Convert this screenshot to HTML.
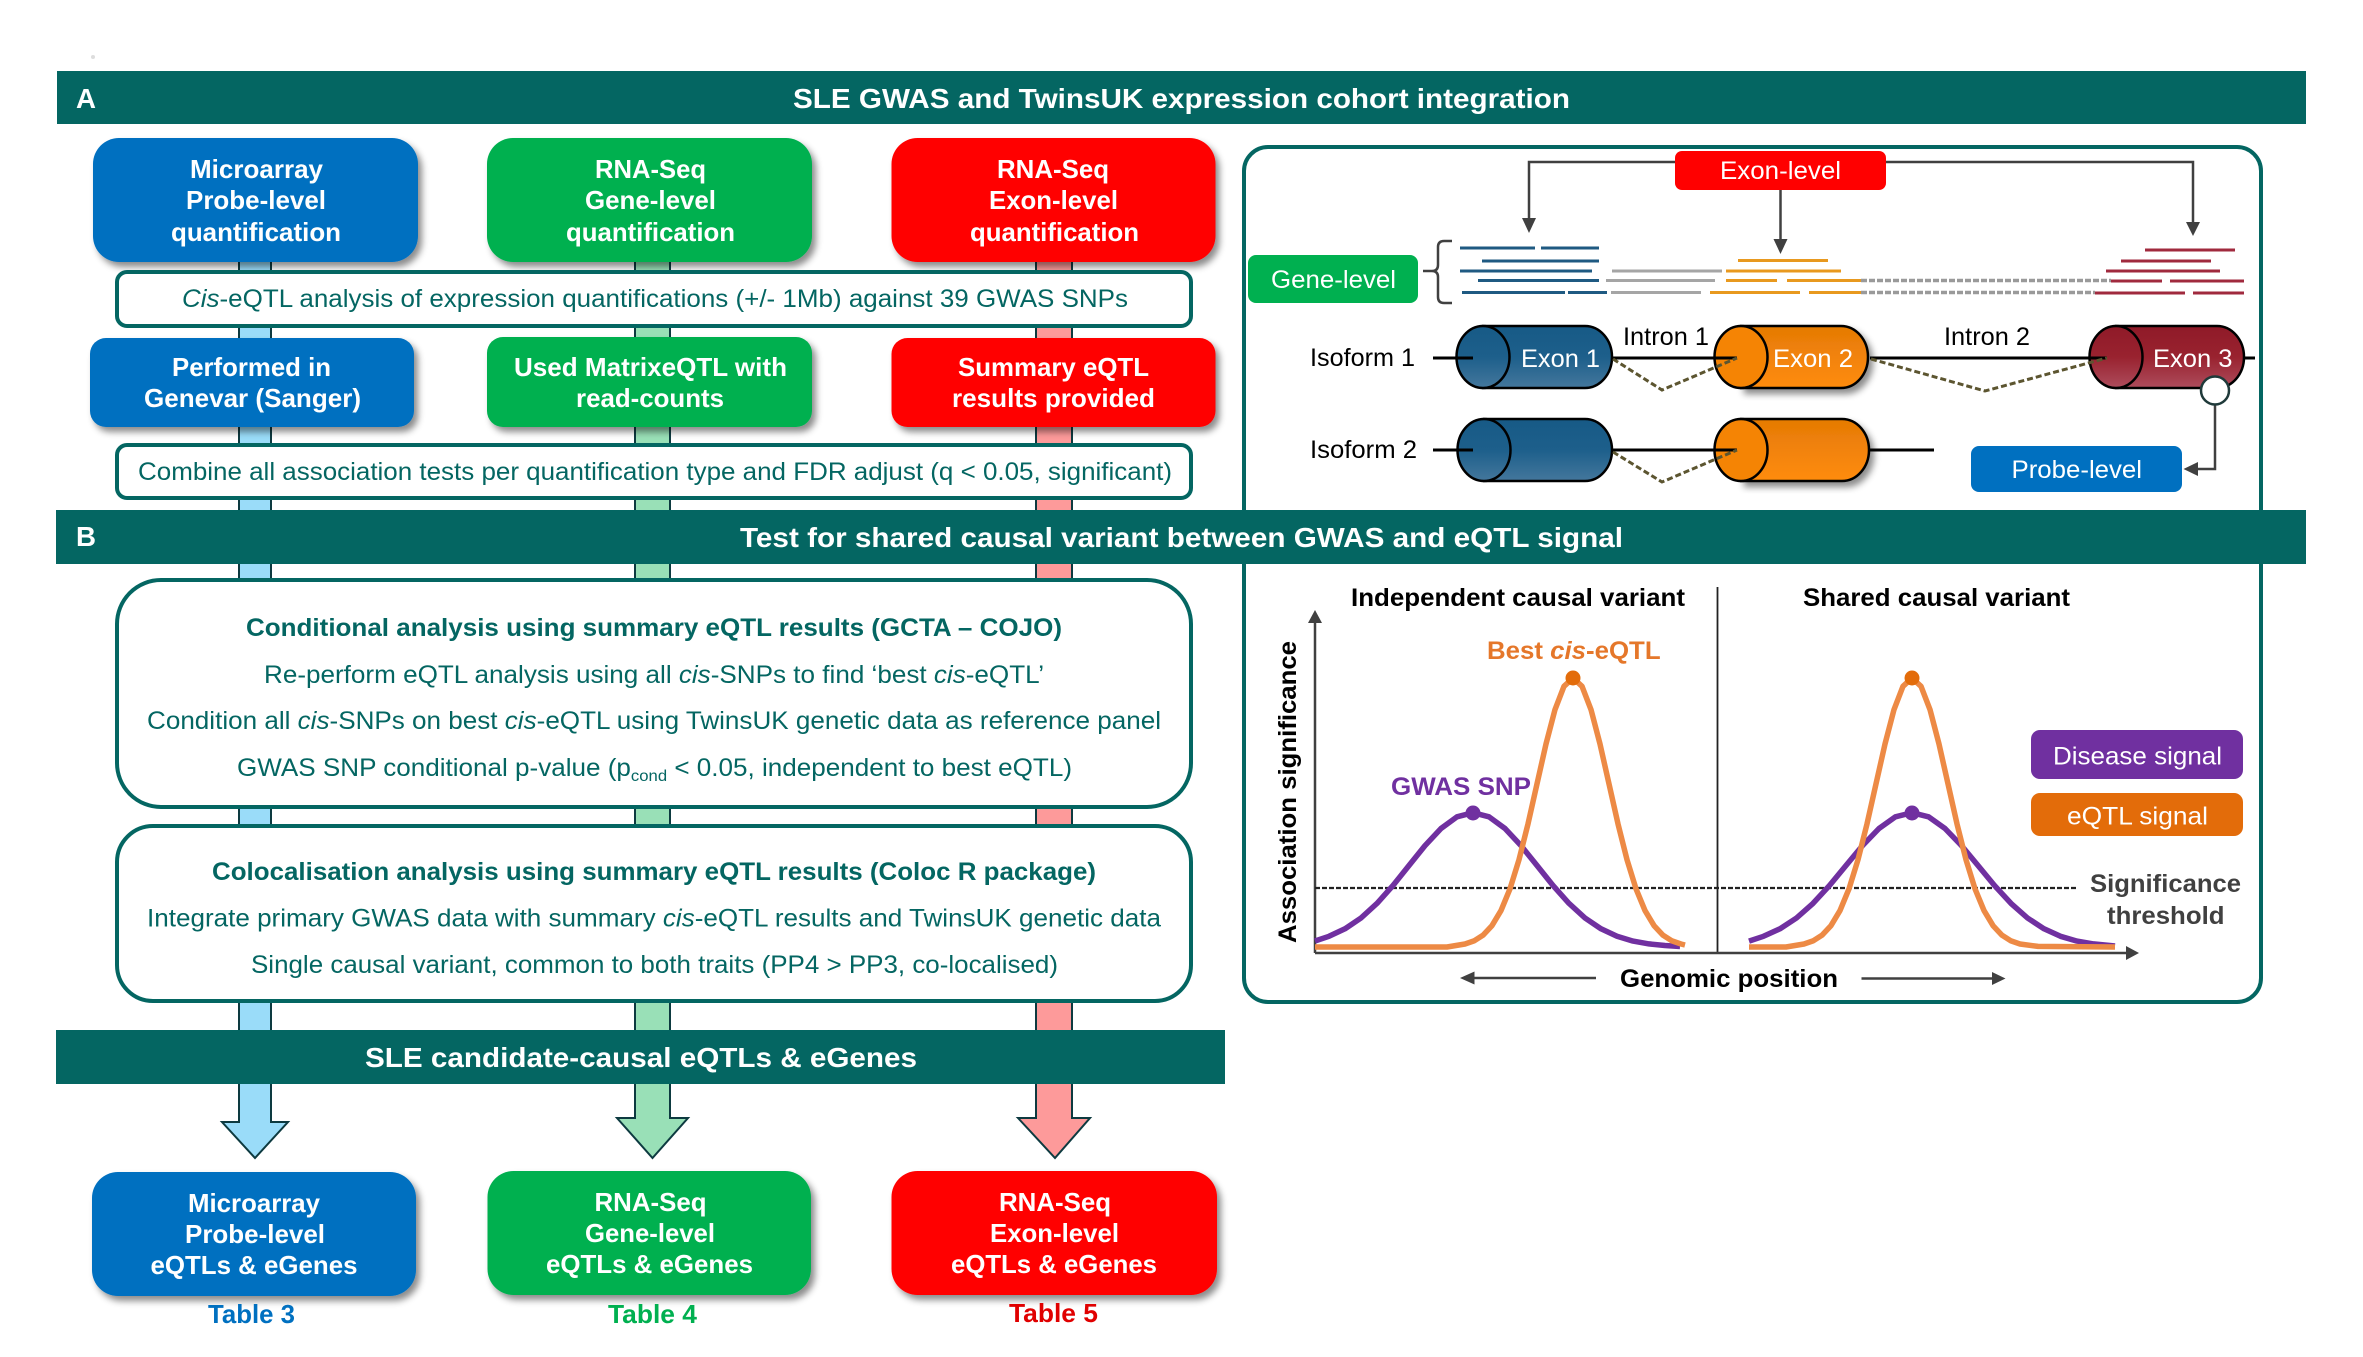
<!DOCTYPE html>
<html lang="en">
<head>
<meta charset="utf-8">
<title>SLE GWAS and TwinsUK expression cohort integration</title>
<style>
html,body{margin:0;padding:0;background:#fff}
svg{display:block;font-family:"Liberation Sans",sans-serif}
.w{fill:#fff;font-weight:700;font-size:26px}
.h{fill:#fff;font-weight:700;font-size:28px}
.t{fill:#046662;font-size:25px}
.tb{fill:#046662;font-size:25px;font-weight:700}
.l{fill:#fff;font-size:25px}
.k{fill:#000;font-size:25px}
.kb{fill:#000;font-size:25px;font-weight:700}
</style>
</head>
<body>
<svg width="2363" height="1357" viewBox="0 0 2363 1357" xmlns="http://www.w3.org/2000/svg">
<defs>
<filter id="sh" x="-10%" y="-10%" width="125%" height="130%"><feDropShadow dx="4" dy="5" stdDeviation="3.5" flood-color="#000" flood-opacity=".45"/></filter>
<linearGradient id="cb" x1="0" y1="0" x2="0" y2="1"><stop offset="0" stop-color="#175a86"/><stop offset=".5" stop-color="#1d5f8b"/><stop offset="1" stop-color="#44779c"/></linearGradient>
<linearGradient id="co" x1="0" y1="0" x2="0" y2="1"><stop offset="0" stop-color="#e57a05"/><stop offset="1" stop-color="#ff8c0c"/></linearGradient>
<linearGradient id="cm" x1="0" y1="0" x2="0" y2="1"><stop offset="0" stop-color="#8f1a28"/><stop offset=".5" stop-color="#99222f"/><stop offset="1" stop-color="#ad4c5c"/></linearGradient>
</defs>
<rect width="2363" height="1357" fill="#fff"/>
<circle cx="93" cy="57" r="2" fill="#ddd"/>

<!-- column strips + arrows -->
<polygon points="239,255 239,1122 222,1122 255,1158 288,1122 271,1122 271,255" fill="#9adcf9" stroke="#0d3a40" stroke-width="2"/>
<polygon points="635,255 635,1118 617,1118 652.5,1158 688,1118 670,1118 670,255" fill="#99e0b7" stroke="#0d3a40" stroke-width="2"/>
<polygon points="1036,255 1036,1118 1018,1118 1055,1158 1090,1118 1072,1118 1072,255" fill="#fd9a9a" stroke="#0d3a40" stroke-width="2"/>

<!-- top boxes -->
<g filter="url(#sh)">
<rect x="93" y="138" width="325" height="124" rx="26" fill="#0070c0"/>
<rect x="487" y="138" width="325" height="124" rx="26" fill="#00b050"/>
<rect x="891.500" y="138" width="324" height="124" rx="26" fill="#f00"/>
</g>
<rect x="117" y="272" width="1074" height="54" rx="10" fill="#fff" stroke="#046662" stroke-width="4"/>
<g filter="url(#sh)">
<rect x="90" y="338" width="324" height="89" rx="16" fill="#0070c0"/>
<rect x="487" y="337" width="325" height="90" rx="16" fill="#00b050"/>
<rect x="891.500" y="338" width="324" height="89" rx="16" fill="#f00"/>
</g>
<rect x="117" y="445" width="1074" height="53" rx="10" fill="#fff" stroke="#046662" stroke-width="4"/>

<text class="w" x="190" y="178" textLength="133" lengthAdjust="spacingAndGlyphs">Microarray</text>
<text class="w" x="186" y="209" textLength="140" lengthAdjust="spacingAndGlyphs">Probe-level</text>
<text class="w" x="171" y="241" textLength="170" lengthAdjust="spacingAndGlyphs">quantification</text>
<text class="w" x="595" y="178" textLength="111" lengthAdjust="spacingAndGlyphs">RNA-Seq</text>
<text class="w" x="585" y="209" textLength="131" lengthAdjust="spacingAndGlyphs">Gene-level</text>
<text class="w" x="566" y="241" textLength="169" lengthAdjust="spacingAndGlyphs">quantification</text>
<text class="w" x="997" y="178" textLength="112" lengthAdjust="spacingAndGlyphs">RNA-Seq</text>
<text class="w" x="989" y="209" textLength="129" lengthAdjust="spacingAndGlyphs">Exon-level</text>
<text class="w" x="970" y="241" textLength="169" lengthAdjust="spacingAndGlyphs">quantification</text>

<text class="t" x="182" y="307" textLength="946" lengthAdjust="spacingAndGlyphs"><tspan font-style="italic">Cis</tspan>-eQTL analysis of expression quantifications (+/- 1Mb) against 39 GWAS SNPs</text>

<text class="w" x="172" y="376" textLength="159" lengthAdjust="spacingAndGlyphs">Performed in</text>
<text class="w" x="144" y="407" textLength="217" lengthAdjust="spacingAndGlyphs">Genevar (Sanger)</text>
<text class="w" x="514" y="376" textLength="273" lengthAdjust="spacingAndGlyphs">Used MatrixeQTL with</text>
<text class="w" x="576" y="407" textLength="148" lengthAdjust="spacingAndGlyphs">read-counts</text>
<text class="w" x="958" y="376" textLength="191" lengthAdjust="spacingAndGlyphs">Summary eQTL</text>
<text class="w" x="952" y="407" textLength="203" lengthAdjust="spacingAndGlyphs">results provided</text>

<text class="t" x="138" y="480" textLength="1034" lengthAdjust="spacingAndGlyphs">Combine all association tests per quantification type and FDR adjust (q &lt; 0.05, significant)</text>

<!-- right panel -->
<rect x="1244" y="147" width="1017" height="855" rx="24" fill="#fff" stroke="#046662" stroke-width="4"/>

<!-- exon-level arrows -->
<g fill="none" stroke="#404040" stroke-width="2.5">
<path d="M1680 162H1529V220"/>
<path d="M1880 162H2193V224"/>
<path d="M1780.5 188V241"/>
</g>
<g fill="#404040">
<polygon points="1522,218 1536,218 1529,233"/>
<polygon points="2186,222 2200,222 2193,236"/>
<polygon points="1773.5,239 1787.5,239 1780.5,254"/>
</g>
<rect x="1675" y="151" width="211" height="39" rx="7" fill="#f00"/>
<text class="l" x="1720" y="179" textLength="121" lengthAdjust="spacingAndGlyphs">Exon-level</text>
<rect x="1248" y="255" width="170" height="48" rx="8" fill="#00b050"/>
<text class="l" x="1271" y="288" textLength="125" lengthAdjust="spacingAndGlyphs">Gene-level</text>
<path d="M1452 241H1444Q1438 241 1438 247V265Q1438 271 1432 271H1423M1432 271Q1438 271 1438 277V297Q1438 303 1444 303H1452" fill="none" stroke="#404040" stroke-width="2.5"/>

<!-- reads -->
<g fill="none" stroke="#1f5a82" stroke-width="3">
<path d="M1460 248H1535M1541 248H1599M1482 261H1599M1460 271H1592M1478 280.500H1599M1462 292.500H1565M1568 292.500H1607"/>
</g>
<g fill="none" stroke="#a5a5a5" stroke-width="3">
<path d="M1612 271H1722M1606 280.500H1715M1611 292.500H1701"/>
<path d="M1861 280.500H2111M1861 292.500H2095" stroke="#9a9a9a" stroke-width="3.500" stroke-dasharray="6 2"/>
</g>
<g fill="none" stroke="#e8991f" stroke-width="3">
<path d="M1738 260.500H1828M1726 271H1841M1726 280.500H1777M1787 280.500H1861M1710 292.500H1800M1809 292.500H1861"/>
</g>
<g fill="none" stroke="#a02a3e" stroke-width="3">
<path d="M2145 250H2235M2121 261H2211M2106 271H2220M2111 281H2162M2170 281H2244M2095 293H2185M2193 293H2244"/>
</g>

<!-- isoform lines (behind) -->
<g stroke="#000" stroke-width="3" fill="none">
<path d="M1433 358H1473M2244 358H2255M1433 450H1473M1869 450H1934"/>
</g>
<!-- cylinders -->
<path d="M1483 326H1585A27 31 0 0 1 1585 388H1483Z" fill="url(#cb)" stroke="#000" stroke-width="2.500"/>
<ellipse cx="1483" cy="357" rx="26.500" ry="31" fill="url(#cb)" stroke="#000" stroke-width="2.500"/>
<path filter="url(#sh)" d="M1741 326H1841A27 31 0 0 1 1841 388H1741Z" fill="url(#co)" stroke="#000" stroke-width="2.500"/>
<ellipse cx="1741" cy="357" rx="26.500" ry="31" fill="#f58404" stroke="#000" stroke-width="2.500"/>
<path d="M2116 326H2217A27 31 0 0 1 2217 388H2116Z" fill="url(#cm)" stroke="#000" stroke-width="2.500"/>
<ellipse cx="2116" cy="357" rx="26.500" ry="31" fill="url(#cm)" stroke="#000" stroke-width="2.500"/>
<path d="M1484 419H1585A27 31 0 0 1 1585 481H1484Z" fill="url(#cb)" stroke="#000" stroke-width="2.500"/>
<ellipse cx="1484" cy="450" rx="26.500" ry="31" fill="url(#cb)" stroke="#000" stroke-width="2.500"/>
<path filter="url(#sh)" d="M1741 419H1842A27 31 0 0 1 1842 481H1741Z" fill="url(#co)" stroke="#000" stroke-width="2.500"/>
<ellipse cx="1741" cy="450" rx="26.500" ry="31" fill="#f58404" stroke="#000" stroke-width="2.500"/>

<g stroke="#000" stroke-width="3" fill="none">
<path d="M1433 358H1473M1612 358H1737M1870 358H2107M1433 450H1473M1612 450H1737"/>
</g>
<g fill="none" stroke="#5c5530" stroke-width="3" stroke-dasharray="6 3">
<path d="M1613 359L1662 390L1737 358"/>
<path d="M1871 359L1985 391L2107 358"/>
<path d="M1613 452L1662 482L1737 450"/>
</g>

<text class="l" x="1521" y="367" textLength="79" lengthAdjust="spacingAndGlyphs">Exon 1</text>
<text class="l" x="1773" y="367" textLength="80" lengthAdjust="spacingAndGlyphs">Exon 2</text>
<text class="l" x="2153" y="367" textLength="79.500" lengthAdjust="spacingAndGlyphs">Exon 3</text>
<text class="k" x="1310" y="366" textLength="105" lengthAdjust="spacingAndGlyphs">Isoform 1</text>
<text class="k" x="1310" y="458" textLength="107" lengthAdjust="spacingAndGlyphs">Isoform 2</text>
<text class="k" x="1623" y="345" textLength="86" lengthAdjust="spacingAndGlyphs">Intron 1</text>
<text class="k" x="1944" y="345" textLength="86" lengthAdjust="spacingAndGlyphs">Intron 2</text>

<path d="M2215 404V469H2196" fill="none" stroke="#404040" stroke-width="2.500"/>
<polygon points="2198,462 2198,476 2183.500,469" fill="#404040"/>
<circle cx="2215" cy="390.500" r="14" fill="#fff" stroke="#1f3a3a" stroke-width="2.500"/>
<rect x="1971" y="446" width="211" height="46" rx="8" fill="#0070c0"/>
<text class="l" x="2011.500" y="478" textLength="130.500" lengthAdjust="spacingAndGlyphs">Probe-level</text>

<!-- chart -->
<text class="kb" x="1351" y="606" textLength="334" lengthAdjust="spacingAndGlyphs">Independent causal variant</text>
<text class="kb" x="1803" y="606" textLength="267" lengthAdjust="spacingAndGlyphs">Shared causal variant</text>
<path d="M1717.500 587V953" stroke="#222" stroke-width="1.800" fill="none"/>
<path d="M1315 953V620M1315 953H2128" stroke="#404040" stroke-width="2.500" fill="none"/>
<polygon points="1308,623 1322,623 1315,610" fill="#404040"/>
<polygon points="2126,946 2126,960 2139,953" fill="#404040"/>
<path d="M1315 888H2077" stroke="#222" stroke-width="2.200" stroke-dasharray="5 2" fill="none"/>

<g fill="none" stroke-width="5.500" stroke-linejoin="round" stroke-linecap="butt">
<polyline stroke="#7030a0" points="1315,941 1329,936.300 1345,928.800 1361,918 1377,903.400 1393,885.500 1409,865.500 1425,845.600 1441,828.500 1457,816.800 1473,812.700 1489,816.800 1505,828.500 1521,845.600 1537,865.500 1553,885.500 1569,903.400 1585,918 1601,928.800 1617,936.300 1633,941.100 1649,943.900 1665,945.500 1680,946.500"/>
<polyline stroke="#ed8a45" points="1315,947 1447,947 1465,944 1474,940.900 1483,935.200 1492,925.600 1501,910.600 1510,888.800 1519,859.700 1528,823.900 1537,783.900 1546,744 1555,709.600 1564,686.300 1573,678 1582,686.300 1591,709.600 1600,744 1609,783.900 1618,823.900 1627,859.700 1636,888.800 1645,910.600 1654,925.600 1663,935.200 1672,940.900 1681,944 1685,945"/>
<polyline stroke="#7030a0" points="1749,941.100 1763.500,936.300 1780,928.800 1796.500,918 1813,903.400 1829.500,885.500 1846,865.500 1862.500,845.600 1879,828.500 1895.500,816.800 1912,812.700 1928.500,816.800 1945,828.500 1961.500,845.600 1978,865.500 1994.500,885.500 2011,903.400 2027.500,918 2044,928.800 2060.500,936.300 2077,941.100 2093.500,943.900 2110,945.500 2115,946"/>
<polyline stroke="#ed8a45" points="1749,947 1786,947 1804,944 1813,940.900 1822,935.200 1831,925.600 1840,910.600 1849,888.800 1858,859.700 1867,823.900 1876,783.900 1885,744 1894,709.600 1903,686.300 1912,678 1921,686.300 1930,709.600 1939,744 1948,783.900 1957,823.900 1966,859.700 1975,888.800 1984,910.600 1993,925.600 2002,935.200 2011,940.900 2020,944 2038,946.400 2115,947"/>
</g>
<circle cx="1573" cy="678" r="7.500" fill="#e36c0a"/>
<circle cx="1912" cy="678" r="7.500" fill="#e36c0a"/>
<circle cx="1473" cy="813" r="7.500" fill="#7030a0"/>
<circle cx="1912" cy="813" r="7.500" fill="#7030a0"/>

<text x="1487" y="659" font-size="25" font-weight="700" fill="#e5772a" textLength="173.600" lengthAdjust="spacingAndGlyphs">Best <tspan font-style="italic">cis</tspan>-eQTL</text>
<text x="1391" y="795" font-size="25" font-weight="700" fill="#7030a0" textLength="140" lengthAdjust="spacingAndGlyphs">GWAS SNP</text>
<text x="1296" y="943" transform="rotate(-90 1296 943)" font-size="25" font-weight="700" fill="#000" textLength="302" lengthAdjust="spacingAndGlyphs">Association significance</text>

<rect x="2031" y="730" width="212" height="49" rx="9" fill="#7030a0"/>
<text class="l" x="2053" y="764.500" textLength="169" lengthAdjust="spacingAndGlyphs">Disease signal</text>
<rect x="2031" y="793" width="212" height="43" rx="9" fill="#e36c0a"/>
<text class="l" x="2067" y="824.500" textLength="141" lengthAdjust="spacingAndGlyphs">eQTL signal</text>
<text x="2090" y="892" font-size="25" font-weight="700" fill="#404040" textLength="151" lengthAdjust="spacingAndGlyphs">Significance</text>
<text x="2107" y="924" font-size="25" font-weight="700" fill="#404040" textLength="117.500" lengthAdjust="spacingAndGlyphs">threshold</text>
<text class="kb" x="1620" y="987" textLength="218" lengthAdjust="spacingAndGlyphs">Genomic position</text>
<path d="M1470 978H1596M1861.500 978.500H1995" stroke="#404040" stroke-width="2.500" fill="none"/>
<polygon points="1474.500,971.500 1474.500,984.500 1460,978" fill="#404040"/>
<polygon points="1992,972 1992,985 2005.500,978.500" fill="#404040"/>

<!-- headers -->
<rect x="57" y="71" width="2249" height="53" fill="#046662"/>
<text class="h" x="76" y="108" textLength="20" lengthAdjust="spacingAndGlyphs">A</text>
<text class="h" x="793" y="108" textLength="777" lengthAdjust="spacingAndGlyphs">SLE GWAS and TwinsUK expression cohort integration</text>
<rect x="56" y="510" width="2250" height="54" fill="#046662"/>
<text class="h" x="76" y="546" textLength="20" lengthAdjust="spacingAndGlyphs">B</text>
<text class="h" x="740" y="547" textLength="883" lengthAdjust="spacingAndGlyphs">Test for shared causal variant between GWAS and eQTL signal</text>

<!-- analysis boxes -->
<rect x="117" y="580" width="1074" height="227" rx="44" fill="#fff" stroke="#046662" stroke-width="4"/>
<text class="tb" x="246" y="636" textLength="816" lengthAdjust="spacingAndGlyphs">Conditional analysis using summary eQTL results (GCTA – COJO)</text>
<text class="t" x="264" y="683" textLength="780" lengthAdjust="spacingAndGlyphs">Re-perform eQTL analysis using all <tspan font-style="italic">cis</tspan>-SNPs to find ‘best <tspan font-style="italic">cis</tspan>-eQTL’</text>
<text class="t" x="147" y="729" textLength="1014" lengthAdjust="spacingAndGlyphs">Condition all <tspan font-style="italic">cis</tspan>-SNPs on best <tspan font-style="italic">cis</tspan>-eQTL using TwinsUK genetic data as reference panel</text>
<text class="t" x="237" y="776" textLength="835" lengthAdjust="spacingAndGlyphs">GWAS SNP conditional p-value (p<tspan font-size="16" dy="5">cond</tspan><tspan dy="-5"> &lt; 0.05, independent to best eQTL)</tspan></text>

<rect x="117" y="826" width="1074" height="175" rx="36" fill="#fff" stroke="#046662" stroke-width="4"/>
<text class="tb" x="212" y="880" textLength="884" lengthAdjust="spacingAndGlyphs">Colocalisation analysis using summary eQTL results (Coloc R package)</text>
<text class="t" x="147" y="926.500" textLength="1014" lengthAdjust="spacingAndGlyphs">Integrate primary GWAS data with summary <tspan font-style="italic">cis</tspan>-eQTL results and TwinsUK genetic data</text>
<text class="t" x="251" y="973" textLength="807" lengthAdjust="spacingAndGlyphs">Single causal variant, common to both traits (PP4 &gt; PP3, co-localised)</text>

<rect x="56" y="1030" width="1169" height="54" fill="#046662"/>
<text class="h" x="365" y="1067" textLength="552" lengthAdjust="spacingAndGlyphs">SLE candidate-causal eQTLs &amp; eGenes</text>

<!-- bottom boxes -->
<g filter="url(#sh)">
<rect x="92" y="1172" width="324" height="124" rx="26" fill="#0070c0"/>
<rect x="487.500" y="1171" width="323.500" height="124" rx="26" fill="#00b050"/>
<rect x="891.500" y="1171" width="325.500" height="124" rx="26" fill="#f00"/>
</g>
<text class="w" x="188" y="1212" textLength="132" lengthAdjust="spacingAndGlyphs">Microarray</text>
<text class="w" x="185" y="1243" textLength="140" lengthAdjust="spacingAndGlyphs">Probe-level</text>
<text class="w" x="150.500" y="1274" textLength="207" lengthAdjust="spacingAndGlyphs">eQTLs &amp; eGenes</text>
<text class="w" x="594.500" y="1211" textLength="112" lengthAdjust="spacingAndGlyphs">RNA-Seq</text>
<text class="w" x="585" y="1242" textLength="130" lengthAdjust="spacingAndGlyphs">Gene-level</text>
<text class="w" x="546" y="1273" textLength="207" lengthAdjust="spacingAndGlyphs">eQTLs &amp; eGenes</text>
<text class="w" x="999" y="1211" textLength="112" lengthAdjust="spacingAndGlyphs">RNA-Seq</text>
<text class="w" x="990" y="1242" textLength="129" lengthAdjust="spacingAndGlyphs">Exon-level</text>
<text class="w" x="951" y="1273" textLength="206" lengthAdjust="spacingAndGlyphs">eQTLs &amp; eGenes</text>

<text x="208" y="1323" font-size="26" font-weight="700" fill="#0070c0" textLength="87" lengthAdjust="spacingAndGlyphs">Table 3</text>
<text x="608" y="1323" font-size="26" font-weight="700" fill="#00b050" textLength="89" lengthAdjust="spacingAndGlyphs">Table 4</text>
<text x="1009" y="1322" font-size="26" font-weight="700" fill="#e00000" textLength="89" lengthAdjust="spacingAndGlyphs">Table 5</text>
</svg>
</body>
</html>
